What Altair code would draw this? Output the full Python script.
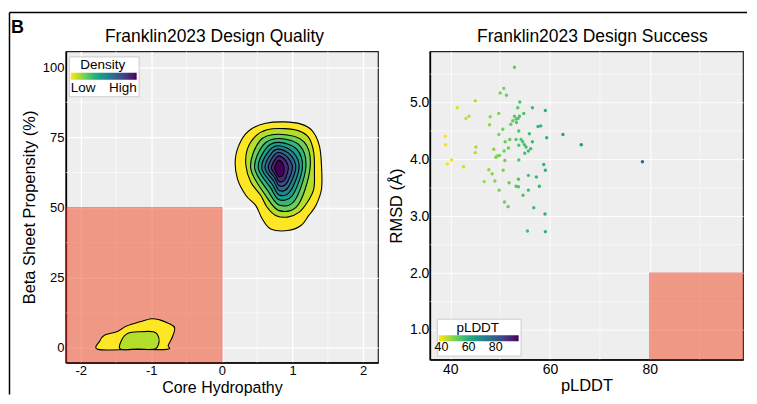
import altair as alt
import pandas as pd

FONT = "Liberation Sans"

# ---------------- Left panel: density contours (Core Hydropathy vs Beta Sheet Propensity) ----------------
# each contour level: list of (core hydropathy, beta sheet %) vertices
upper_L1 = [(0.62, 80.0), (0.88, 80.5), (1.12, 79.7), (1.28, 77.3), (1.38, 72.0), (1.41, 64.9), (1.41, 56.6),
            (1.33, 50.7), (1.23, 47.2), (1.12, 43.6), (0.93, 41.8), (0.69, 42.4), (0.57, 46.0), (0.48, 50.7),
            (0.34, 54.3), (0.22, 60.2), (0.19, 67.3), (0.27, 73.8), (0.41, 77.9)]
upper_L2 = [(0.64, 77.7), (0.88, 78.1), (1.09, 77.3), (1.23, 74.9), (1.30, 69.6), (1.31, 62.5), (1.30, 56.6),
            (1.21, 51.9), (1.09, 48.3), (0.93, 46.6), (0.76, 47.2), (0.64, 50.1), (0.55, 54.3), (0.41, 59.0),
            (0.34, 64.9), (0.36, 70.8), (0.48, 75.5)]
upper_L3 = [(0.809, 76.1), (1.163, 73.4), (1.248, 64.1), (1.078, 50.9), (0.809, 48.9), (0.619, 54.3), (0.407, 64.1), (0.539, 73.8)]
upper_L4 = [(0.809, 74.6), (1.106, 72.0), (1.187, 64.1), (1.031, 52.5), (0.809, 50.9), (0.657, 55.7), (0.463, 64.1), (0.586, 72.3)]
upper_L5 = [(0.809, 73.2), (1.059, 70.8), (1.139, 64.1), (0.998, 54.3), (0.809, 52.8), (0.690, 57.0), (0.515, 64.1), (0.629, 71.2)]
upper_L6 = [(0.809, 72.0), (1.012, 69.6), (1.092, 64.1), (0.965, 55.7), (0.809, 54.5), (0.714, 58.2), (0.563, 64.1), (0.667, 70.2)]
upper_L7 = [(0.809, 70.8), (0.974, 68.7), (1.045, 64.1), (0.936, 57.1), (0.809, 56.1), (0.738, 59.3), (0.610, 64.1), (0.700, 69.3)]
upper_L8 = [(0.809, 69.6), (0.936, 67.7), (0.998, 64.1), (0.913, 58.5), (0.809, 57.8), (0.752, 60.4), (0.657, 64.1), (0.728, 68.3)]
upper_L9 = [(0.809, 68.4), (0.903, 66.7), (0.941, 64.1), (0.889, 59.9), (0.809, 59.3), (0.766, 61.3), (0.700, 64.1), (0.756, 67.3)]
upper_L10 = [(0.809, 66.9), (0.861, 65.7), (0.879, 64.1), (0.865, 61.6), (0.809, 61.1), (0.775, 62.3), (0.747, 64.1), (0.775, 66.1)]
lower_L1 = [(-1.755, -0.5), (-1.73, 2.5), (-1.66, 4.6), (-1.49, 5.8), (-1.35, 7.8), (-1.16, 9.3), (-1.00, 10.4),
            (-0.88, 10.0), (-0.76, 8.8), (-0.67, 7.2), (-0.70, 4.0), (-0.76, 1.0), (-0.78, -0.5), (-1.27, -0.5)]
lower_L2 = [(-1.437, -0.4), (-1.42, 2.8), (-1.33, 5.2), (-1.16, 5.8), (-0.97, 5.8), (-0.91, 4.6), (-0.89, 2.2),
            (-0.95, -0.4), (-1.19, -0.4)]

contours = [
    (1, "upper", upper_L1), (2, "upper", upper_L2), (3, "upper", upper_L3), (4, "upper", upper_L4),
    (5, "upper", upper_L5), (6, "upper", upper_L6), (7, "upper", upper_L7), (8, "upper", upper_L8),
    (9, "upper", upper_L9), (10, "upper", upper_L10), (1, "lower", lower_L1), (2, "lower", lower_L2),
]

# bad-design zone (left panel): hydropathy < 0 and beta sheet < 50
left_zone = {"x": -2.21, "x2": 0.0, "y": -5.2, "y2": 50.0}
left_x_ticks = [-2, -1, 0, 1, 2]
left_y_ticks = [0, 25, 50, 75, 100]
left_x_minor = [-1.5, -0.5, 0.5, 1.5]
left_y_minor = [12.5, 37.5, 62.5, 87.5]

# ---------------- Right panel: pLDDT vs RMSD scatter ----------------
plddt = [52.86, 50.73, 50.0, 51.26, 45.0, 41.39, 53.93, 53.53, 56.46, 59.06, 43.73, 43.13, 48.0, 49.73,
         52.86, 54.73, 53.86, 53.19, 53.59, 52.53, 52.13, 53.26, 47.86, 50.53, 57.59, 58.13, 53.73, 49.73,
         55.86, 62.59, 38.99, 51.93, 53.19, 54.19, 59.33, 51.0, 54.53, 56.46, 39.06, 66.26, 45.13, 53.73,
         54.86, 55.19, 51.66, 56.13, 48.73, 50.79, 45.0, 55.66, 54.93, 49.86, 49.39, 49.13, 40.26, 50.93,
         53.73, 39.39, 78.53, 42.66, 58.73, 47.73, 50.59, 59.06, 48.39, 55.66, 57.26, 53.66, 46.79, 48.93,
         51.79, 53.19, 53.66, 57.86, 49.79, 55.66, 54.59, 50.86, 51.59, 56.73, 58.99, 55.46, 59.06]
rmsd = [5.62, 5.25, 5.17, 5.13, 5.03, 4.91, 5.01, 4.91, 4.91, 4.86, 4.76, 4.72, 4.75, 4.81,
        4.76, 4.81, 4.76, 4.71, 4.72, 4.68, 4.62, 4.65, 4.61, 4.53, 4.58, 4.59, 4.50, 4.44,
        4.45, 4.44, 4.41, 4.35, 4.35, 4.35, 4.38, 4.31, 4.31, 4.31, 4.26, 4.26, 4.22, 4.25,
        4.26, 4.22, 4.20, 4.19, 4.18, 4.15, 4.12, 4.15, 4.11, 4.07, 4.06, 4.04, 3.99, 3.98,
        3.99, 3.92, 3.96, 3.87, 3.91, 3.82, 3.81, 3.81, 3.75, 3.72, 3.69, 3.65, 3.61, 3.62,
        3.59, 3.53, 3.52, 3.53, 3.46, 3.46, 3.37, 3.25, 3.17, 3.15, 3.04, 2.74, 2.73]
# success zone (right panel): pLDDT > 80 and RMSD < 2
right_zone = {"x": 80.0, "x2": 99.5, "y": 0.0, "y2": 2.0}
right_x_ticks = [40, 60, 80]
right_y_ticks = [1, 2, 3, 4, 5]
right_x_minor = [50, 70, 90]
right_y_minor = [1.5, 2.5, 3.5, 4.5, 5.5]

titles = ["Franklin2023 Design Quality", "Franklin2023 Design Success"]

# ---------------- build tables ----------------
rows = []
for lvl, grp, pts in contours:
    for i, (cx, cy) in enumerate(pts):
        rows.append({"level": lvl, "grp": grp, "i": i, "hyd": cx, "beta": cy})
contour_df = pd.DataFrame(rows)
scatter_df = pd.DataFrame({"pLDDT": plddt, "RMSD": rmsd})
one = pd.DataFrame({"k": [0]})

LW, LH = 313, 312
RW, RH = 314, 309
GAP = 52
XL = [-2.21, 2.21]
YL = [-5.2, 105.6]
XR = [35.9, 98.7]
YR = [0.48, 5.9]

axis_common = dict(ticks=False, labelFont=FONT, titleFont=FONT, labelColor="black", titleColor="black",
                   titleFontWeight="normal", domainColor="black", domainWidth=1.6, gridColor="white")

xl = alt.X("hyd:Q", scale=alt.Scale(domain=XL, nice=False, zero=False),
           axis=alt.Axis(values=left_x_ticks, title="Core Hydropathy", labelExpr="'' + datum.value",
                         labelFontSize=13, titleFontSize=16, labelPadding=2, titlePadding=2,
                         gridWidth=1.3, **axis_common))
yl = alt.Y("beta:Q", scale=alt.Scale(domain=YL, nice=False, zero=False),
           axis=alt.Axis(values=left_y_ticks, title="Beta Sheet Propensity (%)", labelFontSize=13,
                         titleFontSize=16.5, labelPadding=2, titlePadding=5, gridWidth=1.3, **axis_common))

minor_l_x = alt.Chart(pd.DataFrame({"hyd": left_x_minor})).mark_rule(color="white", strokeWidth=0.6).encode(
    x=alt.X("hyd:Q", scale=alt.Scale(domain=XL, nice=False, zero=False)))
minor_l_y = alt.Chart(pd.DataFrame({"beta": left_y_minor})).mark_rule(color="white", strokeWidth=0.6).encode(
    y=alt.Y("beta:Q", scale=alt.Scale(domain=YL, nice=False, zero=False)))

zone_l = alt.Chart(pd.DataFrame([left_zone])).mark_rect(
    fill="#F2421E", opacity=0.5, stroke="#F02020", strokeWidth=1.2, clip=True).encode(
    x=alt.X("x:Q", scale=alt.Scale(domain=XL, nice=False, zero=False)), x2="x2:Q",
    y=alt.Y("y:Q", scale=alt.Scale(domain=YL, nice=False, zero=False)), y2="y2:Q")

fill_enc = alt.Fill("level:Q", scale=alt.Scale(scheme="viridis", reverse=True, domain=[1, 10]),
                    legend=alt.Legend(title="Density", orient="none", legendX=3, legendY=5,
                                      direction="horizontal", gradientLength=66, gradientThickness=7,
                                      values=[1, 10], labelExpr="datum.value <= 1 ? 'Low' : 'High'",
                                      fillColor="white", strokeColor="#cccccc", padding=2,
                                      titleAnchor="middle", titleFont=FONT, titleFontSize=13.5,
                                      titleFontWeight="normal", titleColor="black", labelFont=FONT,
                                      labelFontSize=13.5, labelColor="black", titlePadding=1, labelOffset=1,
                                      gradientStrokeWidth=0))

contour_layers = []
for lvl in range(1, 11):
    contour_layers.append(
        alt.Chart(contour_df).transform_filter(alt.datum.level == lvl).mark_line(
            interpolate="cardinal-closed", stroke="black", strokeWidth=1.1).encode(
            x=xl, y=yl, fill=fill_enc, detail="grp:N", order="i:Q"))

# figure frame, panel letter and panel titles
frame_left = alt.Chart(one).mark_rule(color="black", strokeWidth=1.5).encode(
    x=alt.value(-56.5), y=alt.value(-39), y2=alt.value(344))
frame_top = alt.Chart(one).mark_rule(color="black", strokeWidth=1.5).encode(
    x=alt.value(-56.5), x2=alt.value(LW + GAP + RW + 4), y=alt.value(-39))
letter = alt.Chart(one).mark_text(
    text="B", font=FONT, fontSize=18, fontWeight="bold", align="left", baseline="alphabetic", color="black").encode(
    x=alt.value(-55), y=alt.value(-18.5))
title_l = alt.Chart(one).mark_text(
    text=titles[0], font=FONT, fontSize=17.5, align="center", baseline="alphabetic", color="black").encode(
    x=alt.value(149), y=alt.value(-9))

left = alt.layer(minor_l_x, minor_l_y, zone_l, *contour_layers, frame_left, frame_top, letter,
                 title_l).properties(width=LW, height=LH)

# ---------------- right chart ----------------
xr_scale = alt.Scale(domain=XR, nice=False, zero=False)
yr_scale = alt.Scale(domain=YR, nice=False, zero=False)
xr = alt.X("pLDDT:Q", scale=xr_scale,
           axis=alt.Axis(values=right_x_ticks, title="pLDDT", labelFontSize=14, titleFontSize=16.5,
                         labelPadding=2.5, titlePadding=1.5, gridWidth=0.9, **axis_common))
yr = alt.Y("RMSD:Q", scale=yr_scale,
           axis=alt.Axis(values=right_y_ticks, format=".1f", title="RMSD (Å)", labelFontSize=14,
                         titleFontSize=16.5, labelPadding=1, titlePadding=5, gridWidth=0.9, **axis_common))

minor_r_x = alt.Chart(pd.DataFrame({"pLDDT": right_x_minor})).mark_rule(color="white", strokeWidth=0.5).encode(
    x=alt.X("pLDDT:Q", scale=xr_scale))
minor_r_y = alt.Chart(pd.DataFrame({"RMSD": right_y_minor})).mark_rule(color="white", strokeWidth=0.5).encode(
    y=alt.Y("RMSD:Q", scale=yr_scale))
zone_r = alt.Chart(pd.DataFrame([right_zone])).mark_rect(
    fill="#F2421E", opacity=0.5, stroke="#F02020", strokeWidth=1.2, clip=True).encode(
    x=alt.X("x:Q", scale=xr_scale), x2="x2:Q", y=alt.Y("y:Q", scale=yr_scale), y2="y2:Q")

pts = alt.Chart(scatter_df).mark_circle(size=12, opacity=1).encode(
    x=xr, y=yr,
    color=alt.Color("pLDDT:Q", scale=alt.Scale(scheme="viridis", reverse=True, domain=[38, 97]),
                    legend=alt.Legend(title="pLDDT", orient="none", legendX=7, legendY=268,
                                      direction="horizontal", gradientLength=80, gradientThickness=6,
                                      values=[40, 60, 80], fillColor="white", strokeColor="#cccccc",
                                      padding=2, titleAnchor="middle", titleFont=FONT, titleFontSize=13.5,
                                      titleFontWeight="normal", titleColor="black", labelFont=FONT,
                                      labelFontSize=12.5, labelColor="black", titlePadding=1, labelOffset=0,
                                      gradientStrokeWidth=0)))

title_r = alt.Chart(one).mark_text(
    text=titles[1], font=FONT, fontSize=17.5, align="center", baseline="alphabetic", color="black").encode(
    x=alt.value(163), y=alt.value(-9))

right = alt.layer(minor_r_x, minor_r_y, zone_r, pts, title_r).properties(width=RW, height=RH)

chart = alt.hconcat(left, right, spacing=GAP, bounds="flush").resolve_scale(
    fill="independent", color="independent").resolve_legend(
    fill="independent", color="independent").properties(
    padding={"left": 0, "top": 2, "right": 0, "bottom": 0}, background="white").configure_view(
    fill="#EEEEEE", stroke="#222222", strokeWidth=1.2)

chart.save("out.html", embed_options={"renderer": "svg", "actions": False})
